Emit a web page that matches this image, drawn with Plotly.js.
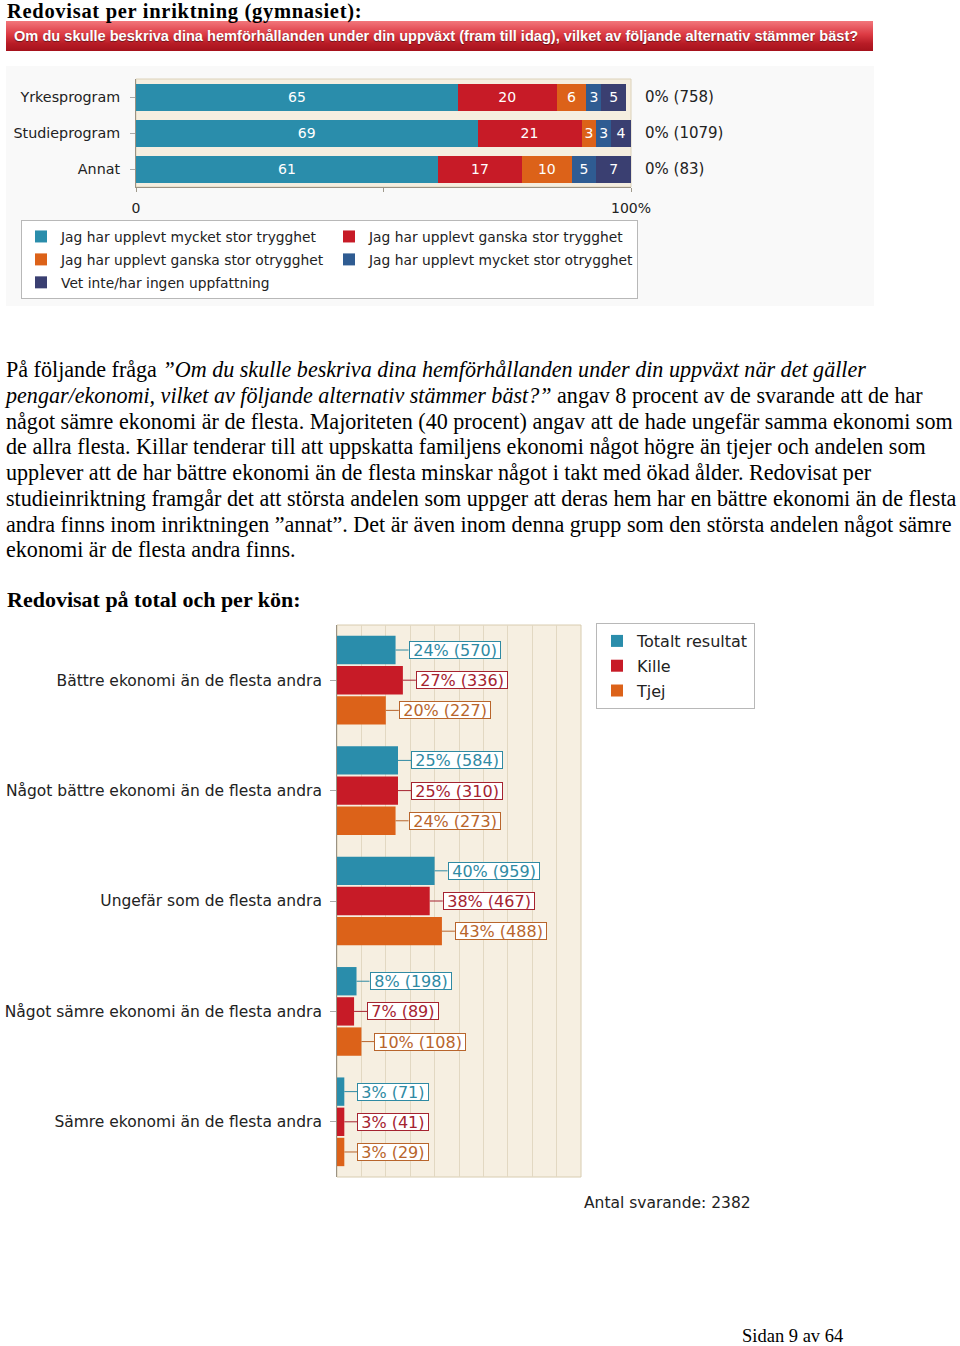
<!DOCTYPE html>
<html lang="sv">
<head>
<meta charset="utf-8">
<script src="https://cdn.plot.ly/plotly-3.0.1.min.js"></script>
<style>
  html, body { margin: 0; padding: 0; background: #fff; }
  #page { position: relative; width: 960px; height: 1346px; overflow: hidden; font-family: "Liberation Serif", "Times New Roman", serif; color: #000; }
  .h { position: absolute; left: 7px; font-weight: bold; font-size: 22px; line-height: 22px; white-space: nowrap; }
  #h1 { top: 0px; font-size: 20.5px; line-height: 23px; letter-spacing: 0.7px; z-index: 2; }
  #para { position: absolute; left: 6px; top: 357px; font-size: 22.1px; line-height: 25.75px; white-space: nowrap; }
  #hdr { position: absolute; left: 6px; top: 21px; width: 867px; height: 30px; box-sizing: border-box; padding-left: 8px; z-index: 1;
         background: linear-gradient(#f2767b 0%, #dc3a43 45%, #b81c26 75%, #a5121c 100%);
         color: #fff; font: bold 14.6px "Liberation Sans", Arial, sans-serif; line-height: 30px; text-shadow: 0 1px 1px rgba(0,0,0,0.45); white-space: nowrap; }
  #c1 { position: absolute; left: 6px; top: 66px; width: 868px; height: 240px; }
  #c2 { position: absolute; left: 0px; top: 615px; width: 960px; height: 610px; }
  #foot { position: absolute; left: 742px; top: 1327px; font-size: 18.5px; line-height: 18.5px; white-space: nowrap; }
</style>
</head>
<body>
<div id="page">
  <div class="h" id="h1">Redovisat per inriktning (gymnasiet):</div>
  <div id="hdr">Om du skulle beskriva dina hemförhållanden under din uppväxt (fram till idag), vilket av följande alternativ stämmer bäst?</div>
  <div id="c1"></div>
  <div id="para">
    <div>På följande fråga <i>”Om du skulle beskriva dina hemförhållanden under din uppväxt när det gäller</i></div>
    <div><i>pengar/ekonomi, vilket av följande alternativ stämmer bäst?”</i> angav 8 procent av de svarande att de har</div>
    <div>något sämre ekonomi är de flesta. Majoriteten (40 procent) angav att de hade ungefär samma ekonomi som</div>
    <div>de allra flesta. Killar tenderar till att uppskatta familjens ekonomi något högre än tjejer och andelen som</div>
    <div>upplever att de har bättre ekonomi än de flesta minskar något i takt med ökad ålder. Redovisat per</div>
    <div>studieinriktning framgår det att största andelen som uppger att deras hem har en bättre ekonomi än de flesta</div>
    <div>andra finns inom inriktningen ”annat”. Det är även inom denna grupp som den största andelen något sämre</div>
    <div>ekonomi är de flesta andra finns.</div>
  </div>
  <div class="h" style="top:589px;">Redovisat på total och per kön:</div>
  <div id="c2"></div>
  <div id="foot">Sidan 9 av 64</div>
</div>
<script>
// ---------- Chart 1 data: per inriktning ----------
const programs = ['Yrkesprogram', 'Studieprogram', 'Annat'];
const seriesNames1 = [
  'Jag har upplevt mycket stor trygghet',
  'Jag har upplevt ganska stor trygghet',
  'Jag har upplevt ganska stor otrygghet',
  'Jag har upplevt mycket stor otrygghet',
  'Vet inte/har ingen uppfattning'
];
const mycketStorTrygghet  = [65, 69, 61];
const ganskaStorTrygghet  = [20, 21, 17];
const ganskaStorOtrygghet = [6, 3, 10];
const mycketStorOtrygghet = [3, 3, 5];
const vetInte             = [5, 4, 7];
const ejSvar              = [0, 0, 0];
const antal1              = [758, 1079, 83];

// ---------- Chart 2 data: total och per kön ----------
const utfall = [
  'Bättre ekonomi än de flesta andra',
  'Något bättre ekonomi än de flesta andra',
  'Ungefär som de flesta andra',
  'Något sämre ekonomi än de flesta andra',
  'Sämre ekonomi än de flesta andra'
];
const groupNames = ['Totalt resultat', 'Kille', 'Tjej'];
const totaltPct = [24, 25, 40, 8, 3];
const totaltN   = [570, 584, 959, 198, 71];
const killePct  = [27, 25, 38, 7, 3];
const killeN    = [336, 310, 467, 89, 41];
const tjejPct   = [20, 24, 43, 10, 3];
const tjejN     = [227, 273, 488, 108, 29];
const antalSvarande = 2382;

// ---------- styles ----------
const F = 'DejaVu Sans, Verdana, sans-serif';
const colors1 = ['#2a8dab', '#c71b27', '#dc6219', '#2f5c92', '#3a3f71'];
const colors2 = ['#2a8dab', '#c71b27', '#dc6219'];
const labelColors2 = ['#2f8aa3', '#a52330', '#b8652c'];
const cfg = { displayModeBar: false, staticPlot: true };

// ---------- Chart 1 ----------
const vals1 = [mycketStorTrygghet, ganskaStorTrygghet, ganskaStorOtrygghet, mycketStorOtrygghet, vetInte];
const traces1 = vals1.map((v, i) => ({
  type: 'bar', orientation: 'h', y: programs, x: v, name: seriesNames1[i],
  marker: { color: colors1[i], line: { width: 0 } },
  text: v.map(String), textposition: 'inside', insidetextanchor: 'middle', textangle: 0,
  constraintext: 'none', textfont: { family: F, size: 14, color: '#ffffff' },
  legendgroup: 'g' + i, hoverinfo: 'none'
}));
const layout1 = {
  width: 868, height: 240,
  margin: { l: 130, r: 243, t: 13, b: 119, autoexpand: false },
  paper_bgcolor: '#f9f9f9', plot_bgcolor: '#f5eee0',
  barmode: 'stack', bargap: 0.25,
  font: { family: F, size: 14, color: '#222' },
  xaxis: { range: [0, 100], tickvals: [0, 50, 100], ticktext: ['0', '', '100%'], ticks: 'outside', ticklen: 4,
           tickcolor: '#a09a8c', showgrid: false, zeroline: false, showline: true, linecolor: '#9a9283',
           ticklabelstandoff: 4, tickfont: { family: F, size: 14, color: '#222' } },
  yaxis: { autorange: 'reversed', ticks: 'outside', ticklen: 5, tickcolor: '#aaa', showline: true, linecolor: '#9a9283',
           showgrid: false, ticklabelstandoff: 7, tickfont: { family: F, size: 14.3, color: '#222' } },
  showlegend: true,
  legend: { orientation: 'h', x: -0.2323, xanchor: 'left', y: -0.3055, yanchor: 'top', bgcolor: '#ffffff',
            bordercolor: '#b8b8b8', borderwidth: 1, font: { family: F, size: 13.8, color: '#222' },
            entrywidth: 263, tracegroupgap: 2, traceorder: 'grouped' },
  annotations: programs.map((p, i) => ({
    x: 100, y: p, xref: 'x', yref: 'y', xanchor: 'left', xshift: 12, showarrow: false,
    text: ejSvar[i] + '% (' + antal1[i] + ')', font: { family: F, size: 15, color: '#222' }
  })),
  shapes: [{ type: 'rect', xref: 'paper', yref: 'paper', x0: 0, x1: 1, y0: 0, y1: 1,
             line: { color: '#dcd2ba', width: 1 }, layer: 'below' }]
};
Plotly.newPlot('c1', traces1, layout1, cfg);

// ---------- Chart 2 ----------
const pct2 = [totaltPct, killePct, tjejPct];
const n2 = [totaltN, killeN, tjejN];
const bargap2 = 0.18;
const traces2 = pct2.map((v, k) => ({
  type: 'bar', orientation: 'h', y: utfall, x: v, name: groupNames[k],
  marker: { color: colors2[k], line: { width: 0 } },
  legendgroup: 'k' + k, hoverinfo: 'none'
}));
const slot = (1 - bargap2) / pct2.length;
const labelAnn = [];
pct2.forEach((v, k) => {
  v.forEach((val, i) => {
    labelAnn.push({
      x: val, y: i + (k - (pct2.length - 1) / 2) * slot, xref: 'x', yref: 'y',
      showarrow: true, arrowhead: 0, arrowwidth: 1, arrowcolor: labelColors2[k], standoff: 0,
      ax: 13, ay: 0, axref: 'pixel', ayref: 'pixel', xanchor: 'left', yanchor: 'middle',
      text: '\u2009' + val + '% (' + n2[k][i] + ')\u2009', font: { family: F, size: 16, color: labelColors2[k] },
      height: 16, valign: 'middle',
      bgcolor: '#ffffff', bordercolor: labelColors2[k], borderwidth: 1, borderpad: 0
    });
  });
});
labelAnn.push({
  xref: 'paper', yref: 'paper', x: 1.004, y: -0.047, xanchor: 'left', yanchor: 'middle', showarrow: false,
  text: 'Antal svarande: ' + antalSvarande, font: { family: F, size: 15.5, color: '#222' }
});
const layout2 = {
  width: 960, height: 610,
  margin: { l: 337, r: 379, t: 10, b: 48, autoexpand: false },
  paper_bgcolor: 'rgba(0,0,0,0)', plot_bgcolor: '#f6efe1',
  barmode: 'group', bargap: bargap2, bargroupgap: 0.06,
  font: { family: F, size: 15.5, color: '#222' },
  xaxis: { range: [0, 100], dtick: 10, showticklabels: false, ticks: '', showgrid: true, gridcolor: '#e2d8c2',
           gridwidth: 1, zeroline: false, showline: false },
  yaxis: { autorange: 'reversed', ticks: 'outside', ticklen: 6, tickcolor: '#aaa', showline: true, linecolor: '#9a9283',
           showgrid: false, ticklabelstandoff: 5, tickfont: { family: F, size: 15.5, color: '#222' } },
  showlegend: true,
  legend: { x: 1.0615, xanchor: 'left', y: 1.0036, yanchor: 'top', bgcolor: '#ffffff', bordercolor: '#b8b8b8',
            borderwidth: 1, font: { family: F, size: 16, color: '#222' }, tracegroupgap: 1, traceorder: 'grouped' },
  annotations: labelAnn,
  shapes: [{ type: 'rect', xref: 'paper', yref: 'paper', x0: 0, x1: 1, y0: 0, y1: 1,
             line: { color: '#d8ccb0', width: 1 }, layer: 'below' }]
};
Plotly.newPlot('c2', traces2, layout2, cfg);
</script>
</body>
</html>
